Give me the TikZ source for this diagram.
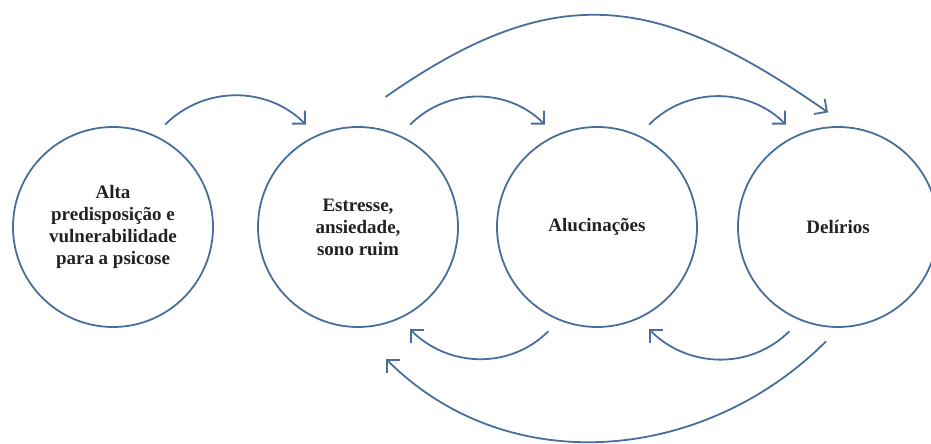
\documentclass[tikz,border=0pt]{standalone}
\usepackage{fontspec}
\setmainfont{Liberation Serif}
\usepackage{tikz}
\usepackage{xcolor}
\usetikzlibrary{arrows.meta}
\definecolor{lineblue}{RGB}{72,110,155}
\definecolor{textgray}{RGB}{34,34,34}
\tikzset{
    stage-circle/.style = {draw=lineblue, line width=1.8pt, circle, minimum size=200pt, inner sep=0pt, outer sep=15pt, align=center, text=textgray, font=\fontsize{19}{22}\selectfont\bfseries},
    cycle-arrow/.style = {draw=lineblue, line width=1.8pt, -{Straight Barb[angle=90:13pt, line width=1.8pt]}},
}

\begin{document}
\begin{tikzpicture}[x=1pt, y=1pt]
\useasboundingbox (0,0) rectangle (931,444);
\node [stage-circle] (alta) at (113,217) {Alta\\predisposição e\\vulnerabilidade\\para a psicose};
\node [stage-circle] (estresse) at (358,217) {Estresse,\\ansiedade,\\sono ruim};
\node [stage-circle] (alucinacoes) at (597,217) {Alucinações};
\node [stage-circle] (delirios) at (838,217) {Delírios};
% forward arrows
\draw [cycle-arrow] (alta.63) to[out=45, in=135] (estresse.117);
\draw [cycle-arrow] (estresse.63) to[out=45, in=135] (alucinacoes.117);
\draw [cycle-arrow] (alucinacoes.63) to[out=45, in=135] (delirios.117);
\draw [cycle-arrow] ([shift={(78:18pt)}]estresse.78) to[out=35, in=145, looseness=1.2] (delirios.95);
% feedback arrows
\draw [cycle-arrow] (alucinacoes.-115) to[out=-135, in=-45] (estresse.-63);
\draw [cycle-arrow] (delirios.-115) to[out=-135, in=-45] (alucinacoes.-63);
\draw [cycle-arrow] (delirios.-96) to[out=-135, in=-45] ([shift={(-78:20pt)}]estresse.-78);
\end{tikzpicture}
\end{document}
